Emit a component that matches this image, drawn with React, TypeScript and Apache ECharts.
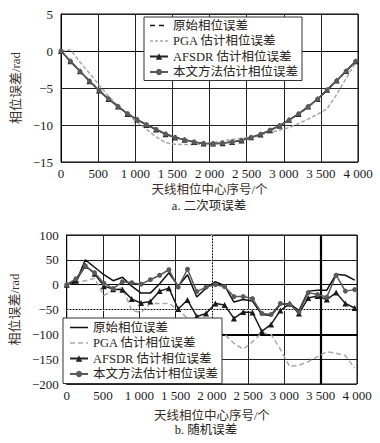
import React, { useEffect, useRef } from "react";
import * as echarts from "echarts";

// antenna phase-centre sample indices
const sampleIdx = [0, 128, 256, 384, 512, 640, 768, 896, 1024, 1152, 1280, 1408, 1536, 1664, 1792, 1920, 2048, 2176, 2304, 2432, 2560, 2688, 2816, 2944, 3072, 3200, 3328, 3456, 3584, 3712, 3840, 3968];

const seriesNames = ["原始相位误差", "PGA 估计相位误差", "AFSDR 估计相位误差", "本文方法估计相位误差"];

// (a) quadratic error, rad
const quadTrue = [0, -1.4, -2.75, -4.05, -5.3, -6.45, -7.5, -8.45, -9.3, -9.95, -10.6, -11.2, -11.65, -12.0, -12.3, -12.5, -12.55, -12.45, -12.3, -12.05, -11.7, -11.25, -10.7, -10.1, -9.35, -8.5, -7.55, -6.5, -5.3, -4.05, -2.75, -1.4];
const quadPga = [0, 0.15, -1.5, -3.0, -4.6, -6.1, -7.4, -8.6, -9.6, -10.6, -11.6, -12.4, -12.6, -12.65, -12.65, -12.6, -12.4, -12.15, -11.95, -11.8, -11.6, -11.3, -11.0, -10.7, -10.35, -9.8, -9.2, -8.55, -7.8, -5.9, -3.7, -1.6];
const quadAfsdr = [0, -1.38, -2.74, -4.08, -5.35, -6.5, -7.5, -8.5, -9.25, -10.0, -10.6, -11.25, -11.7, -12.0, -12.3, -12.5, -12.5, -12.45, -12.3, -12.1, -11.65, -11.3, -10.7, -10.1, -9.3, -8.5, -7.5, -6.5, -5.25, -4.0, -2.7, -1.4];
const quadOurs = [0, -1.4, -2.75, -4.06, -5.32, -6.47, -7.5, -8.47, -9.28, -9.97, -10.6, -11.22, -11.67, -12.0, -12.3, -12.5, -12.53, -12.45, -12.3, -12.07, -11.68, -11.27, -10.7, -10.1, -9.33, -8.5, -7.53, -6.5, -5.28, -4.03, -2.73, -1.4];

// (b) random error, rad
const randTrue = [0, 5, 50, 35, 20, 8, 15, -3, -17, -17, 2, 24, -3, 20, -25, -7, 6, -2, -35, -30, -33, -60, -62, -40, -38, -52, -13, -11, -11, 21, 19, 9];
const randPga = [0, 5, 8, 13, -22, -11, -6, -52, -56, -38, -38, -38, -50, -68, -78, -85, -92, -100, -118, -130, -115, -97, -100, -130, -165, -162, -155, -145, -135, -138, -143, -168];
const randAfsdr = [0, 8, 38, 22, -3, -9, -10, -29, -37, -34, -13, -7, -49, -31, -64, -58, -38, -41, -68, -55, -56, -94, -80, -52, -38, -58, -27, -23, -30, -16, -38, -47];
const randOurs = [0, 12, 38, 24, 3, -8, 6, 4, 1, 10, 19, 30, -5, 31, -14, -5, 0, -4, -24, -24, -28, -58, -60, -38, -40, -55, -16, -20, -25, 19, -13, -10];

const SERIF = "'Liberation Serif','Noto Sans CJK SC',serif";
const TXT = "#1a1a1a";
const NAME_C = "#3a2e28";

const pairs = (vals: number[]) => sampleIdx.map((x, i) => [x, vals[i]]);

const fmtX = (v: number) => {
  if (v < 1000) return String(v);
  const th = Math.floor(v / 1000);
  const rest = String(v % 1000).padStart(3, "0");
  return `${th} ${rest}`;
};
const fmtY = (v: number) => (v < 0 ? "\u2212" + Math.abs(v) : String(v));

function makeX(gridIndex: number, nameGap: number) {
  return {
    type: "value",
    gridIndex,
    min: 0,
    max: 4000,
    interval: 500,
    axisLine: { show: true, lineStyle: { color: "#000", width: 1 } },
    axisTick: { show: false },
    splitLine: { show: true, lineStyle: { color: "#222", width: 1 } },
    axisLabel: { formatter: fmtX, fontFamily: SERIF, fontSize: 13, color: TXT, margin: 5 },
    name: "天线相位中心序号/个",
    nameLocation: "middle",
    nameGap,
    nameTextStyle: { fontFamily: SERIF, fontSize: 12.5, color: NAME_C, lineHeight: 13 },
  };
}

function makeY(gridIndex: number, min: number, max: number, interval: number, nameGap: number) {
  return {
    type: "value",
    gridIndex,
    min,
    max,
    interval,
    axisLine: { show: true, lineStyle: { color: "#000", width: 1 } },
    axisTick: { show: false },
    splitLine: { show: true, lineStyle: { color: "#222", width: 1 } },
    axisLabel: { formatter: fmtY, fontFamily: SERIF, fontSize: 13, color: TXT, margin: 8 },
    name: "相位误差/rad",
    nameLocation: "middle",
    nameGap,
    nameTextStyle: { fontFamily: SERIF, fontSize: 13, color: NAME_C },
  };
}

export default function App() {
  const ref = useRef<HTMLDivElement>(null);
  useEffect(() => {
    if (!ref.current) return;
    const chart = echarts.init(ref.current, undefined, { renderer: "svg" });

    const legendText = { fontFamily: SERIF, fontSize: 12.5, color: "#2a2420", lineHeight: 15 };
    const noSym = { opacity: 0, borderWidth: 0 };

    const option: any = {
      animation: false,
      backgroundColor: "#fff",
      grid: [
        { left: 61, right: 22, top: 14, height: 148, show: true, borderColor: "#000", borderWidth: 1, backgroundColor: "#fff" },
        { left: 60, right: 23, top: 235, height: 149, show: true, borderColor: "#000", borderWidth: 1, backgroundColor: "#fff" },
      ],
      xAxis: [makeX(0, 21), makeX(1, 25)],
      yAxis: [makeY(0, -15, 5, 5, 28), makeY(1, -200, 100, 50, 31)],
      legend: [
        {
          orient: "vertical",
          left: 144,
          top: 17,
          padding: [1, 4, 1, 5],
          itemGap: 0.5,
          itemWidth: 18,
          itemHeight: 8,
          backgroundColor: "#fff",
          borderColor: "#333",
          borderWidth: 1,
          textStyle: legendText,
          data: [
            { name: seriesNames[0], itemStyle: noSym, lineStyle: { type: [5, 4], color: "#111", width: 1.5 } },
            { name: seriesNames[1], itemStyle: noSym, lineStyle: { type: [3, 2], color: "#a8a8a8", width: 1.5 } },
            { name: seriesNames[2] },
            { name: seriesNames[3] },
          ],
        },
        {
          orient: "vertical",
          left: 63,
          top: 318,
          padding: [2, 4, 2, 6],
          itemGap: 0.5,
          itemWidth: 18,
          itemHeight: 8,
          backgroundColor: "#fff",
          borderColor: "#333",
          borderWidth: 1,
          textStyle: legendText,
          data: [
            { name: seriesNames[0], itemStyle: noSym, lineStyle: { type: "solid", color: "#111", width: 1.5 } },
            { name: seriesNames[1], itemStyle: noSym, lineStyle: { type: [5, 3], color: "#a8a8a8", width: 1.5 } },
            { name: seriesNames[2] },
            { name: seriesNames[3] },
          ],
        },
      ],
      series: [
        // (a)
        {
          name: seriesNames[0], type: "line", xAxisIndex: 0, yAxisIndex: 0, data: pairs(quadTrue),
          showSymbol: false, symbol: "none", lineStyle: { color: "#111", width: 1.5, type: [5, 4] }, itemStyle: { color: "#111" }, z: 2,
        },
        {
          name: seriesNames[1], type: "line", xAxisIndex: 0, yAxisIndex: 0, data: pairs(quadPga),
          showSymbol: false, symbol: "none", lineStyle: { color: "#a8a8a8", width: 1.5, type: [4, 2] }, itemStyle: { color: "#a8a8a8" }, z: 2,
        },
        {
          name: seriesNames[2], type: "line", xAxisIndex: 0, yAxisIndex: 0, data: pairs(quadAfsdr),
          symbol: "triangle", symbolSize: 6, lineStyle: { color: "#222", width: 1.5 }, itemStyle: { color: "#222" }, z: 3,
        },
        {
          name: seriesNames[3], type: "line", xAxisIndex: 0, yAxisIndex: 0, data: pairs(quadOurs),
          symbol: "circle", symbolSize: 5, lineStyle: { color: "#5a5a5a", width: 1.5 }, itemStyle: { color: "#5a5a5a" }, z: 4,
        },
        // (b)
        {
          name: seriesNames[0], type: "line", xAxisIndex: 1, yAxisIndex: 1, data: pairs(randTrue),
          showSymbol: false, symbol: "none", lineStyle: { color: "#111", width: 1.5 }, itemStyle: { color: "#111" }, z: 2,
          markLine: {
            silent: true,
            symbol: ["none", "none"],
            label: { show: false },
            z: 1,
            data: [
              { xAxis: 2000, lineStyle: { color: "#fff", width: 1.5, type: "solid" } },
              { xAxis: 2000, lineStyle: { color: "#000", width: 1, type: [1.5, 1.5] } },
              { yAxis: -50, lineStyle: { color: "#fff", width: 1.5, type: "solid" } },
              { yAxis: -50, lineStyle: { color: "#000", width: 1, type: [1.5, 1.5] } },
              { xAxis: 3500, lineStyle: { color: "#000", width: 2.2, type: "solid" } },
              { yAxis: -100, lineStyle: { color: "#000", width: 2.2, type: "solid" } },
            ],
          },
        },
        {
          name: seriesNames[1], type: "line", xAxisIndex: 1, yAxisIndex: 1, data: pairs(randPga),
          showSymbol: false, symbol: "none", lineStyle: { color: "#a8a8a8", width: 1.5, type: [5, 3] }, itemStyle: { color: "#a8a8a8" }, z: 2,
        },
        {
          name: seriesNames[2], type: "line", xAxisIndex: 1, yAxisIndex: 1, data: pairs(randAfsdr),
          symbol: "triangle", symbolSize: 6, lineStyle: { color: "#1a1a1a", width: 1.5 }, itemStyle: { color: "#1a1a1a" }, z: 3,
        },
        {
          name: seriesNames[3], type: "line", xAxisIndex: 1, yAxisIndex: 1, data: pairs(randOurs),
          symbol: "circle", symbolSize: 5, lineStyle: { color: "#5a5a5a", width: 1.5 }, itemStyle: { color: "#5a5a5a" }, z: 4,
        },
      ],
      graphic: [
        {
          type: "text", x: 209, y: 205.5, z: 10,
          style: { text: "a. 二次项误差", font: `12.5px ${SERIF}`, fill: "#222", align: "center", verticalAlign: "middle", textAlign: "center", textVerticalAlign: "middle" },
        },
        {
          type: "text", x: 206, y: 430, z: 10,
          style: { text: "b. 随机误差", font: `12.5px ${SERIF}`, fill: "#222", align: "center", verticalAlign: "middle", textAlign: "center", textVerticalAlign: "middle" },
        },
      ],
    };

    chart.setOption(option);
    return () => chart.dispose();
  }, []);

  return (
    <div
      ref={ref}
      style={{ position: "absolute", left: 0, top: 0, width: 380, height: 443, background: "#fff" }}
    />
  );
}
